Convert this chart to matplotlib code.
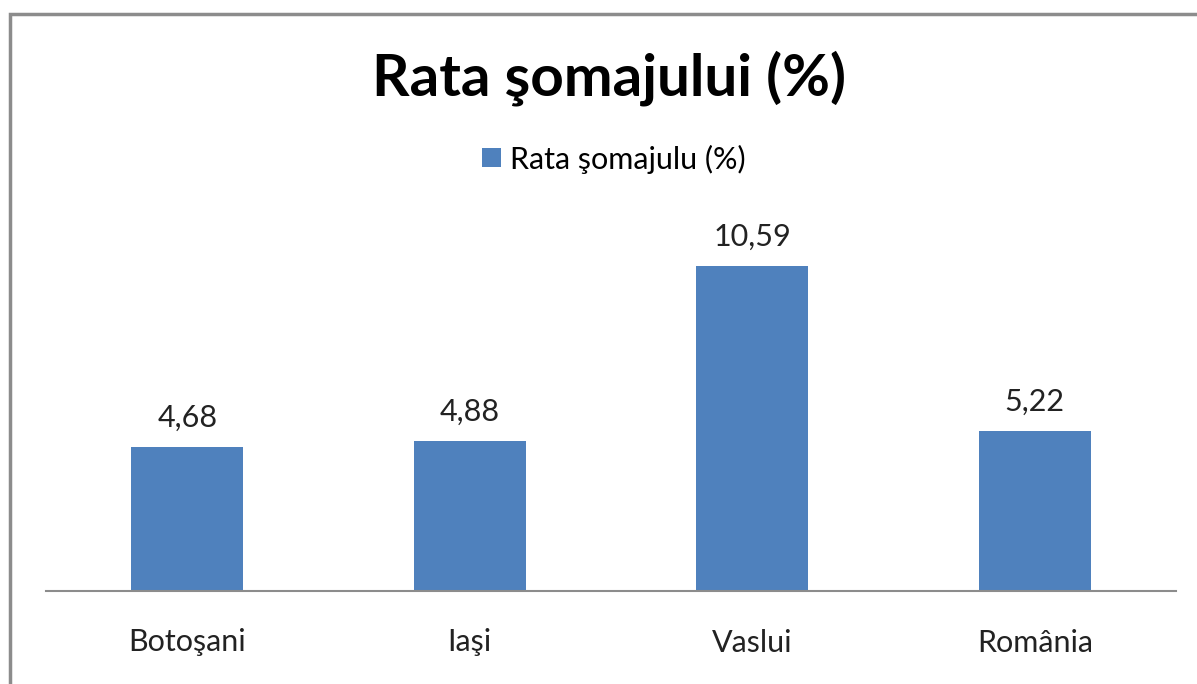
import matplotlib
matplotlib.use("Agg")
import matplotlib.pyplot as plt
from matplotlib.patches import Rectangle, Patch

categories = ["Botoşani", "Iaşi", "Vaslui", "România"]
values = [4.68, 4.88, 10.59, 5.22]
value_labels = ["4,68", "4,88", "10,59", "5,22"]
title = "Rata şomajului (%)"
series_name = "Rata şomajulu (%)"

W, H = 1197, 684
fig = plt.figure(figsize=(W / 100, H / 100), dpi=100)
plt.rcParams['font.family'] = ['Lato', 'DejaVu Sans']

# outer chart border
fig.patches.append(Rectangle((10 / W, -0.5), 1.2, 1.5 - 14 / H, transform=fig.transFigure,
                             fill=False, edgecolor="#8c8c8c", linewidth=2.5))

ppu = 325 / 10.59
ymax = 12.0
top_px = 591 - ymax * ppu
ax = fig.add_axes([46 / W, (H - 591) / H, (1176 - 46) / W, (591 - top_px) / H])
color = "#4F81BD"
x = list(range(len(categories)))
bars = ax.bar(x, values, width=0.396, color=color)
ax.set_xlim(-0.5, len(categories) - 0.5)
ax.set_ylim(0, ymax)
for s in ["top", "right", "left"]:
    ax.spines[s].set_visible(False)
ax.spines["bottom"].set_color("#8c8c8c")
ax.spines["bottom"].set_linewidth(1.5)
ax.set_yticks([])
ax.set_xticks(x)
ax.set_xticklabels(categories, fontsize=22, color="#222222")
ax.tick_params(axis="x", length=0, pad=27)
for xi, v, lab in zip(x, values, value_labels):
    ax.annotate(lab, (xi, v), xytext=(0, 11), textcoords="offset points",
                ha="center", va="bottom", fontsize=22, color="#222222")

fig.text(609 / W, 1 - 78 / H, title, ha="center", va="center",
         fontsize=42, fontweight="bold", color="black")
fig.legend(handles=[Patch(facecolor=color, label=series_name)],
           loc="center", bbox_to_anchor=(614 / W, 1 - 159 / H), frameon=False,
           fontsize=22, handlelength=0.6, handleheight=0.6, handletextpad=0.3)

fig.savefig("out.png", dpi=100)
